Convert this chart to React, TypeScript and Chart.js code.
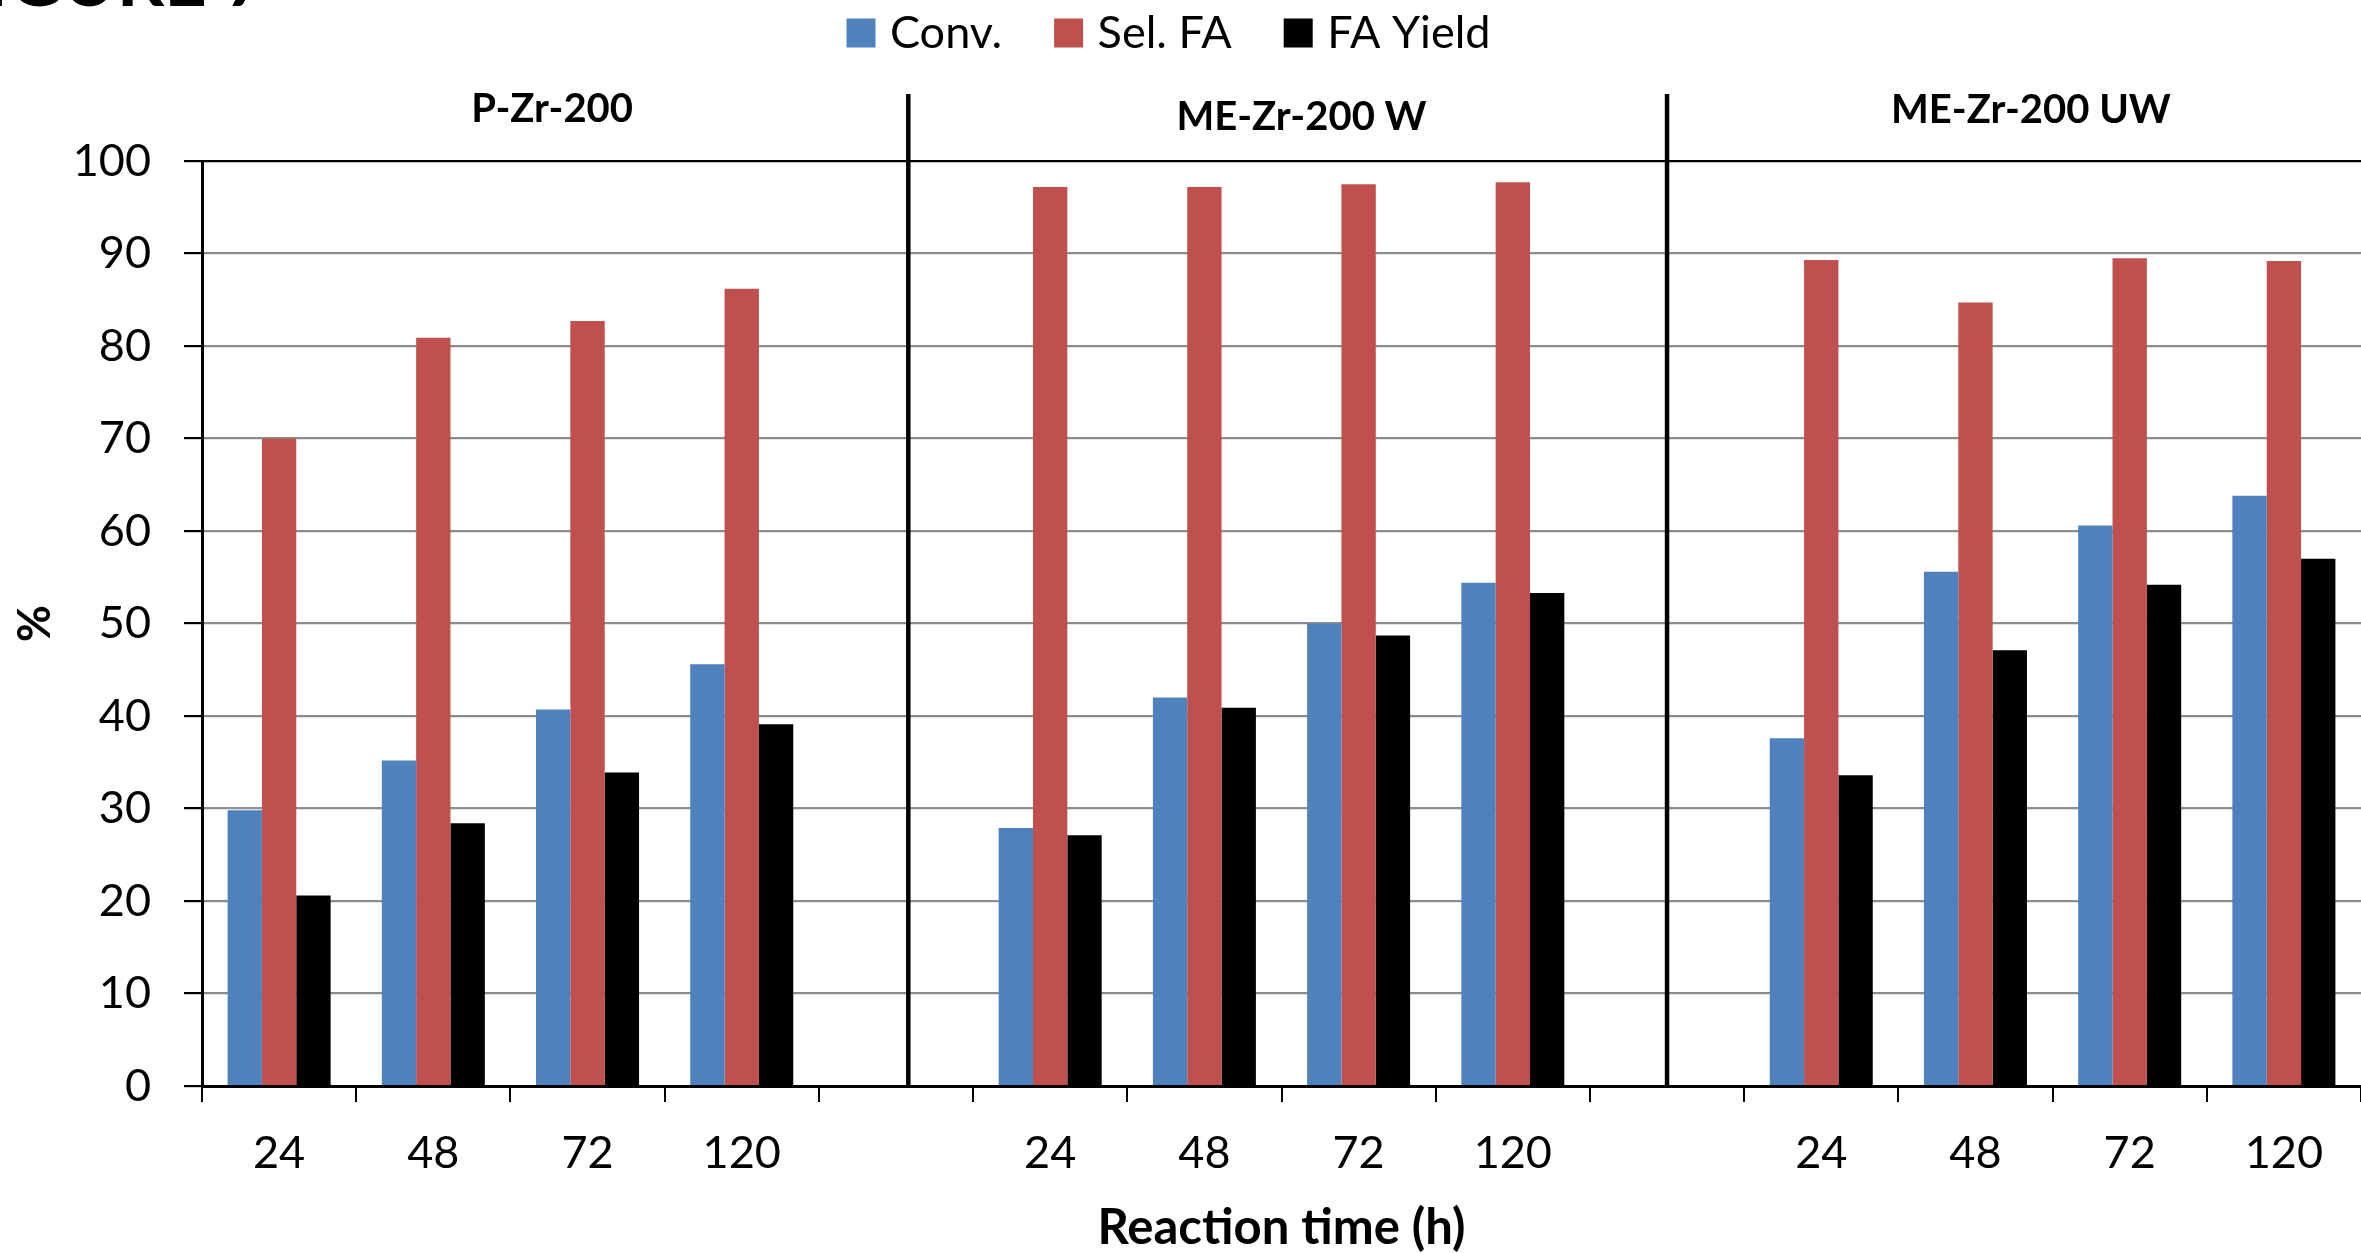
import React, { useEffect, useRef } from 'react';
import { Chart, registerables } from 'chart.js';

Chart.register(...registerables);

// Reaction times per catalyst panel; blank slots separate the panels
const categories = ['24', '48', '72', '120', '', '24', '48', '72', '120', '', '24', '48', '72', '120'];

// Values in %
const conversion = [29.8, 35.2, 40.7, 45.6, null, 27.9, 42.0, 50.0, 54.4, null, 37.6, 55.6, 60.6, 63.8];
const selectivityFA = [70.0, 80.9, 82.7, 86.2, null, 97.2, 97.2, 97.5, 97.7, null, 89.3, 84.7, 89.5, 89.2];
const faYield = [20.6, 28.4, 33.9, 39.1, null, 27.1, 40.9, 48.7, 53.3, null, 33.6, 47.1, 54.2, 57.0];

const seriesNames = ['Conv.', 'Sel. FA', 'FA Yield'];
const seriesColors = ['#4F81BD', '#C0504D', '#000000'];

const panelTitles = ['P-Zr-200', 'ME-Zr-200 W', 'ME-Zr-200 UW'];
const figureLabel = 'FIGURE 7';

const FONT = 'Lato, "Open Sans", "DejaVu Sans", sans-serif';
const W = 2361;
const H = 1253;

const overlay = {
  id: 'panelOverlay',
  afterDraw(chart: any) {
    const { ctx, chartArea } = chart;
    const x = chart.scales.x;
    ctx.save();

    // figure caption, partly outside the canvas
    ctx.fillStyle = '#000';
    ctx.font = `bold 74px ${FONT}`;
    ctx.textAlign = 'left';
    ctx.textBaseline = 'alphabetic';
    const fiWidth = ctx.measureText('FI').width;
    ctx.fillText(figureLabel, 8 - fiWidth, 6);

    // panel separators
    ctx.strokeStyle = '#000';
    ctx.lineWidth = 4.5;
    [4.08, 9].forEach((v) => {
      const px = x.getPixelForValue(v);
      ctx.beginPath();
      ctx.moveTo(px, 94);
      ctx.lineTo(px, chartArea.bottom);
      ctx.stroke();
    });

    // panel titles
    ctx.font = `bold 40px ${FONT}`;
    ctx.textAlign = 'center';
    const titleAt = [1.77, 6.63, 11.36];
    const titleBase = [122, 130, 123];
    panelTitles.forEach((t, i) => {
      ctx.fillText(t, x.getPixelForValue(titleAt[i]), titleBase[i]);
    });

    // legend
    ctx.font = `45px ${FONT}`;
    ctx.textAlign = 'left';
    const box = 29;
    const gap = 14.5;
    const itemGap = 52;
    const widths = seriesNames.map((n) => ctx.measureText(n).width);
    const total = widths.reduce((a, w) => a + box + gap + w, 0) + itemGap * (seriesNames.length - 1);
    let lx = 1168.5 - total / 2;
    seriesNames.forEach((n, i) => {
      ctx.fillStyle = seriesColors[i];
      ctx.fillRect(lx, 18.5, box, box);
      ctx.fillStyle = '#000';
      ctx.fillText(n, lx + box + gap, 47.5);
      lx += box + gap + widths[i] + itemGap;
    });

    ctx.restore();
  },
};

export default function App() {
  const ref = useRef<HTMLCanvasElement | null>(null);

  useEffect(() => {
    if (!ref.current) return;
    const seriesData = [conversion, selectivityFA, faYield];
    const chart = new Chart(ref.current, {
      type: 'bar',
      data: {
        labels: categories,
        datasets: seriesNames.map((name, i) => ({
          label: name,
          data: seriesData[i],
          backgroundColor: seriesColors[i],
          borderWidth: 0,
          categoryPercentage: 0.668,
          barPercentage: 1.0,
        })),
      },
      options: {
        animation: false,
        responsive: false,
        devicePixelRatio: 1,
        events: [],
        layout: { padding: { top: 161, left: 0, right: 0, bottom: 0 } },
        plugins: {
          legend: { display: false },
          tooltip: { enabled: false },
        },
        scales: {
          x: {
            offset: true,
            grid: {
              offset: true,
              drawOnChartArea: false,
              drawTicks: true,
              tickLength: 16,
              tickColor: '#000',
              lineWidth: 2,
            },
            border: { display: true, color: '#000', width: 3 },
            ticks: {
              color: '#000',
              padding: 24,
              maxRotation: 0,
              autoSkip: false,
              font: { family: FONT, size: 45 },
            },
            title: {
              display: true,
              text: 'Reaction time (h)',
              color: '#000',
              font: { family: FONT, size: 49, weight: 'bold', lineHeight: 1.0 },
              padding: { top: 4, bottom: 0 },
            },
            afterFit: (s: any) => {
              s.height = H - 1086;
            },
          },
          y: {
            min: 0,
            max: 100,
            grid: {
              color: (c: any) => (c.tick && (c.tick.value === 100 || c.tick.value === 0) ? '#000' : '#8c8c8c'),
              lineWidth: 2.2,
              tickLength: 18,
              tickColor: '#000',
            },
            border: { display: true, color: '#000', width: 3 },
            ticks: {
              stepSize: 10,
              color: '#000',
              padding: 33,
              font: { family: FONT, size: 45 },
            },
            title: {
              display: true,
              text: '%',
              color: '#000',
              font: { family: FONT, size: 45, weight: 'bold' },
              padding: { top: 8, bottom: 4 },
            },
            afterFit: (s: any) => {
              s.width = 202;
            },
          },
        },
      },
      plugins: [overlay],
    });
    return () => chart.destroy();
  }, []);

  return (
    <div style={{ position: 'fixed', left: 0, top: 0, width: W, height: H, background: '#fff' }}>
      <canvas ref={ref} width={W} height={H} style={{ display: 'block', width: W, height: H }} />
    </div>
  );
}
